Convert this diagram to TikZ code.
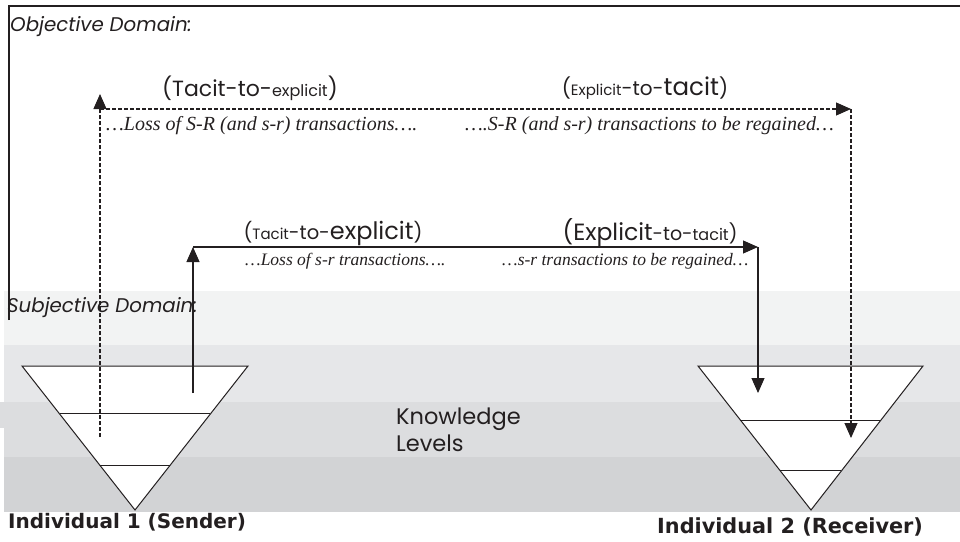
\documentclass[tikz,border=0pt]{standalone}
\usepackage{fontspec}
\setsansfont{Poppins}
\newfontfamily\serifit{Liberation Serif}
\newfontfamily\boldlbl{DejaVu Sans}
\usetikzlibrary{positioning, calc, arrows.meta}
\usepackage{xcolor}
\definecolor{band1}{HTML}{F2F3F3}
\definecolor{band2}{HTML}{E6E7E9}
\definecolor{band3}{HTML}{DCDDDF}
\definecolor{band4}{HTML}{D2D3D5}
\definecolor{ink}{HTML}{231F20}
\newcommand{\fsz}[1]{\fontsize{#1}{#1}\selectfont}

\begin{document}
\begin{tikzpicture}[
    x=1pt, y=-1pt,
    line/.style={draw=ink, line width=1.1pt},
    dashline/.style={line, dash pattern=on 4pt off 2pt},
    tip/.style={-{Triangle[length=15pt, width=13pt]}},
    level/.style={draw=ink, line width=1pt, fill=white},
    domainlbl/.style={font=\sffamily\itshape\fsz{19.8}, text=ink, anchor=west, inner sep=0pt},
    convert/.style={font=\sffamily, text=ink, inner sep=0pt},
    loss/.style={font=\serifit\itshape, text=ink, anchor=west, inner sep=0pt},
    person/.style={font=\boldlbl\bfseries\fsz{20}, text=ink, anchor=west, inner sep=0pt},
]
\useasboundingbox (0,0) rectangle (960,541);

% ── Knowledge bands ──
\fill[band1] (4,291) rectangle (960,345);
\fill[band2] (4,345) rectangle (960,402);
\fill[band3] (4,402) rectangle (960,457);
\fill[band3] (0,402) rectangle (4,428);
\fill[band4] (4,457) rectangle (960,512);

% ── Frame of the objective domain ──
\draw[line, line width=1.6pt] (9,320) -- (9,6) -- (960,6);

% ── Individuals ──
\coordinate (a1) at (22,366);
\coordinate (b1) at (248,366);
\coordinate (c1) at (135,510);
\coordinate (a2) at (698,366);
\coordinate (b2) at (923,366);
\coordinate (c2) at (811,510);
\draw[level] (a1) -- (b1) -- (c1) -- cycle;
\draw[level] (a2) -- (b2) -- (c2) -- cycle;
\draw[level] ($(a1)!0.333!(c1)$) -- ($(b1)!0.333!(c1)$);
\draw[level] ($(a1)!0.694!(c1)$) -- ($(b1)!0.694!(c1)$);
\draw[level] ($(a2)!0.375!(c2)$) -- ($(b2)!0.375!(c2)$);
\draw[level] ($(a2)!0.729!(c2)$) -- ($(b2)!0.729!(c2)$);

% ── S-R loop (dashed) ──
\coordinate (srStart) at (100,437);
\coordinate (srUp) at (100,94);
\coordinate (srLeft) at (100,109);
\coordinate (srRight) at (851,109);
\coordinate (srEnd) at (851,438);
\draw[dashline, tip] (srStart) -- (srUp);
\draw[dashline, tip] (srLeft) -- (srRight);
\draw[dashline, tip] (srRight) -- (srEnd);

% ── s-r loop (solid) ──
\coordinate (lrStart) at (193,393);
\coordinate (lrLeft) at (193,247);
\coordinate (lrRight) at (758,247);
\coordinate (lrEnd) at (758,393);
\draw[line, tip] (lrStart) -- (lrLeft);
\draw[line, tip] (lrLeft) -- (lrRight);
\draw[line, tip] (lrRight) -- (lrEnd);

% ── Labels ──
\node[domainlbl] (objective) at (10,27) {Objective Domain:};
\node[domainlbl] (subjective) at (7,308) {Subjective Domain:};

\node[convert] (tacitTop) at (250,88) {\fsz{22}(Tacit-to-\fsz{16}explicit\fsz{22})};
\node[convert] (explicitTop) at (645,88) {\fsz{20}(\fsz{15}Explicit\fsz{20}-to-\fsz{24.5}tacit\fsz{20})};
\node[loss, font=\serifit\itshape\fsz{20}] (lossTop) at (106,126) {\dots Loss of S-R (and s-r) transactions\dots.};
\node[loss, font=\serifit\itshape\fsz{20}] (gainTop) at (465,126) {\dots.S-R (and s-r) transactions to be regained\dots};

\node[convert] (tacitLow) at (333,233) {\fsz{19.5}(\fsz{15}Tacit\fsz{19.5}-to-\fsz{24}explicit\fsz{19.5})};
\node[convert] (explicitLow) at (650,233) {\fsz{23.5}(Explicit\fsz{19}-to-\fsz{16}tacit\fsz{19})};
\node[loss, font=\serifit\itshape\fsz{17.5}] (lossLow) at (245,261) {\dots Loss of s-r transactions\dots.};
\node[loss, font=\serifit\itshape\fsz{17.5}] (gainLow) at (502,261) {\dots s-r transactions to be regained\dots};

\node[convert, anchor=west, align=left, font=\sffamily\fontsize{22.5}{27}\selectfont] (levels) at (396,430) {Knowledge\\Levels};

\node[person] (sender) at (8,522) {Individual 1 (Sender)};
\node[person, font=\boldlbl\bfseries\fsz{20.8}] (receiver) at (657,527) {Individual 2 (Receiver)};
\end{tikzpicture}
\end{document}
